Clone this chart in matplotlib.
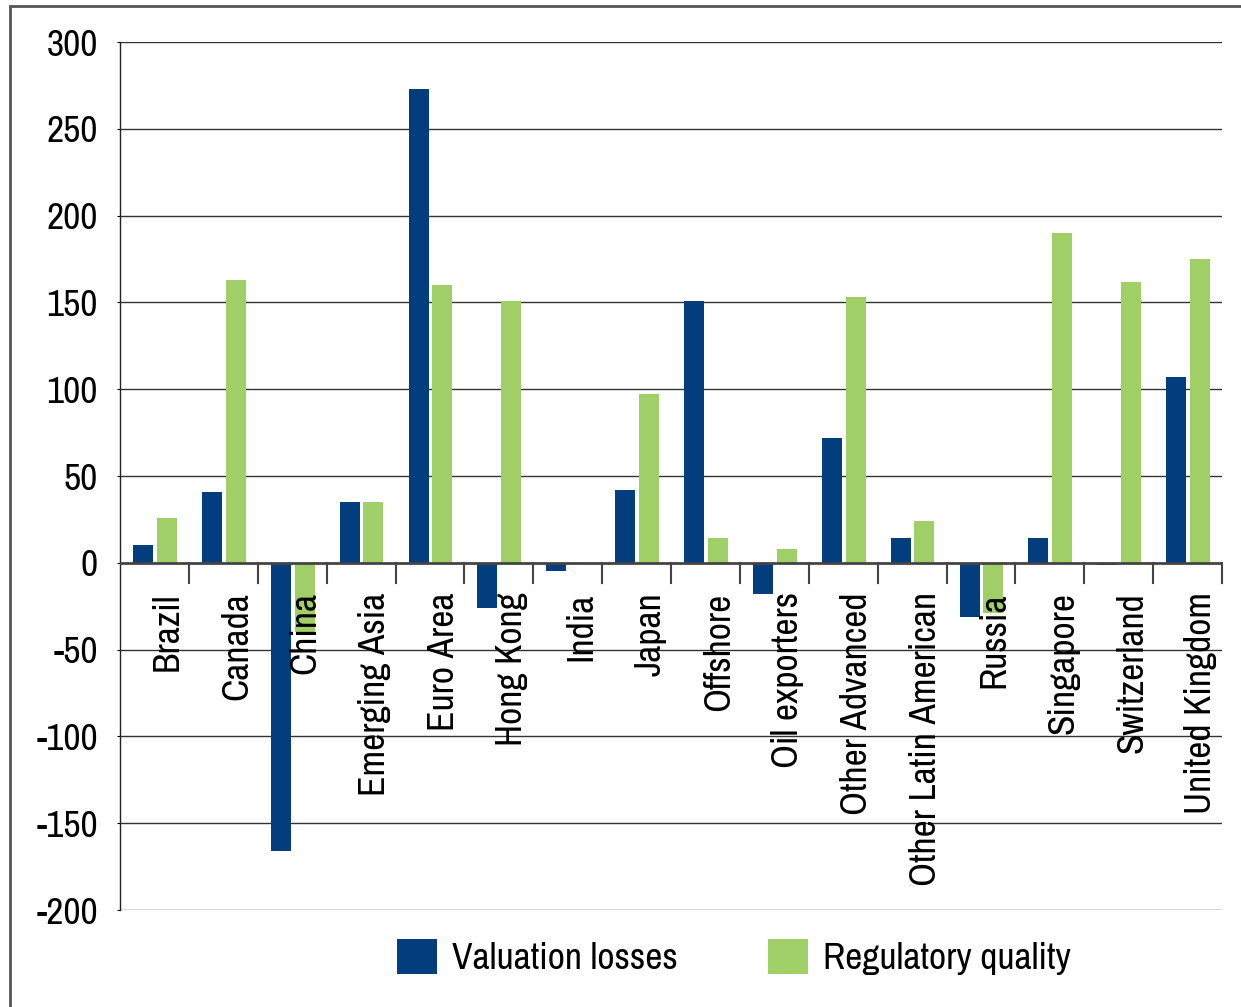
import matplotlib
matplotlib.use("Agg")
import matplotlib.pyplot as plt
from matplotlib import font_manager
from matplotlib.patches import Rectangle, Patch
import numpy as np

# pick a condensed face if one is installed
names = {f.name for f in font_manager.fontManager.ttflist}
condensed = [n for n in names if 'Condensed' in n or 'Narrow' in n]
if condensed:
    font = sorted(condensed)[0]
    fs = 27
else:
    font = 'Liberation Sans'
    fs = 23
plt.rcParams['font.family'] = [font, 'DejaVu Sans']
plt.rcParams['axes.unicode_minus'] = False

# Data
categories = ['Brazil', 'Canada', 'China', 'Emerging Asia', 'Euro Area', 'Hong Kong',
              'India', 'Japan', 'Offshore', 'Oil exporters', 'Other Advanced',
              'Other Latin American', 'Russia', 'Singapore', 'Switzerland', 'United Kingdom']
valuation_losses = [10, 41, -166, 35, 273, -26, -5, 42, 151, -18, 72, 14, -31, 14, -1, 107]
regulatory_quality = [26, 163, -40, 35, 160, 151, 0, 97, 14, 8, 153, 24, -29, 190, 162, 175]

blue = '#023e7d'
green = '#a0cf67'

fig = plt.figure(figsize=(12.41, 10.07), dpi=100)
ax = fig.add_axes([120 / 1241, 97 / 1007, 1102 / 1241, 868 / 1007])

x = np.arange(len(categories))
w = 0.29
ax.bar(x - 0.165, valuation_losses, w, color=blue, zorder=3)
ax.bar(x + 0.18, regulatory_quality, w, color=green, zorder=3)

ax.set_xlim(-0.5, len(categories) - 0.5)
ax.set_ylim(-200, 300)
ax.set_yticks(range(-200, 301, 50))
ax.tick_params(axis='y', labelsize=fs, length=2, pad=14)
ax.set_xticks([])

# gridlines
for yv in range(-200, 301, 50):
    if yv == 0:
        continue
    ax.axhline(yv, color='#333333', lw=1.0, zorder=1)
ax.axhline(0, color='#444444', lw=2.0, zorder=4)

for s in ['top', 'right', 'bottom']:
    ax.spines[s].set_visible(False)
ax.spines['left'].set_color('#222222')
ax.spines['left'].set_linewidth(1.0)

# category boundary ticks below the zero line
for b in np.arange(0.5, len(categories), 1.0):
    ax.plot([b, b], [0, -11.5], color='#444444', lw=1.5, zorder=4, clip_on=False)

# rotated category labels inside the plot area
for i, c in enumerate(categories):
    ax.text(i + 0.19, -17, c, rotation=90, ha='center', va='top',
            fontsize=fs, zorder=5)

handles = [Patch(facecolor=blue), Patch(facecolor=green)]
fig.legend(handles, ['Valuation losses', 'Regulatory quality'],
           loc='center left', bbox_to_anchor=(397 / 1241, 50 / 1007),
           ncol=2, frameon=False, fontsize=fs, handlelength=40 / (fs * 1.389),
           handleheight=40 / (fs * 1.389), handletextpad=0.4,
           columnspacing=90 / (fs * 1.389), borderpad=0, borderaxespad=0)

# outer frame
fig.patches.append(Rectangle((10 / 1241, -0.01), 1.0, 1 - 6 / 1007 + 0.01,
                             transform=fig.transFigure, fill=False,
                             edgecolor='#555555', lw=2))

fig.savefig('out.png', dpi=100)
